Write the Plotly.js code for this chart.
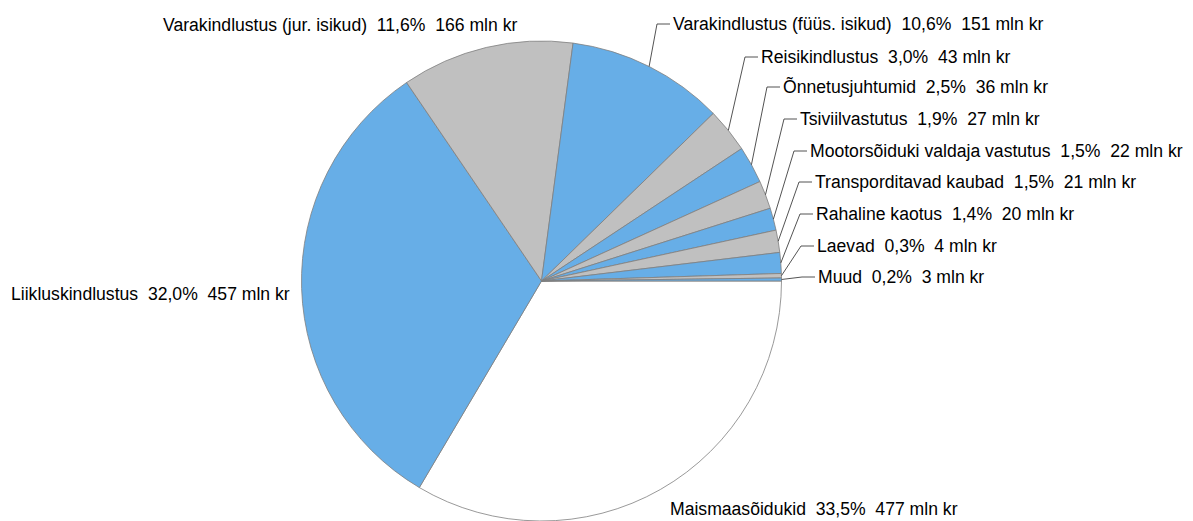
<!DOCTYPE html>
<html>
<head>
<meta charset="utf-8">
<script src="https://cdn.plot.ly/plotly-3.0.1.min.js"></script>
<style>html,body{margin:0;padding:0;background:#fff;}#chart{width:1193px;height:521px;}</style>
</head>
<body>
<div id="chart"></div>
<script>
// ---- data ----
var categories = [
  "Maismaasõidukid",
  "Liikluskindlustus",
  "Varakindlustus (jur. isikud)",
  "Varakindlustus (füüs. isikud)",
  "Reisikindlustus",
  "Õnnetusjuhtumid",
  "Tsiviilvastutus",
  "Mootorsõiduki valdaja vastutus",
  "Transporditavad kaubad",
  "Rahaline kaotus",
  "Laevad",
  "Muud"
];
var sharePct = [33.5, 32.0, 11.6, 10.6, 3.0, 2.5, 1.9, 1.5, 1.5, 1.4, 0.3, 0.2];
var amountMln = [477, 457, 166, 151, 43, 36, 27, 22, 21, 20, 4, 3];

// ---- layout / style ----
var W = 1193, H = 521;
var cx = 541.5, cy = 281, R = 240;
var BLUE = "#67AEE7", GRAY = "#C0C0C0", WHITE = "#FFFFFF";
var sliceColors = [WHITE, BLUE, GRAY, BLUE, GRAY, BLUE, GRAY, BLUE, GRAY, BLUE, GRAY, BLUE];
// label placement (pixel positions of label text start / vertical centre); leader: whether a leader line is drawn
var labelPos = [
  {x: 670, y: 509, leader: false},
  {x: 11,  y: 294, leader: false},
  {x: 163, y: 25,  leader: false},
  {x: 673, y: 24,  leader: true},
  {x: 761, y: 57,  leader: true},
  {x: 783, y: 87,  leader: true},
  {x: 800, y: 119, leader: true},
  {x: 810, y: 151, leader: true},
  {x: 815, y: 182, leader: true},
  {x: 816, y: 214, leader: true},
  {x: 817, y: 246, leader: true},
  {x: 818, y: 277, leader: true}
];

function fmtPct(v) { return v.toFixed(1).replace(".", ","); }
function px2x(p) { return p / W; }
function px2y(p) { return 1 - p / H; }

var total = sharePct.reduce(function (a, b) { return a + b; }, 0);
var annotations = [], shapes = [];
var cum = 0;
for (var i = 0; i < categories.length; i++) {
  var mid = (cum + sharePct[i] / 2) / total * 2 * Math.PI;
  cum += sharePct[i];
  var ax = cx + R * Math.cos(mid), ay = cy + R * Math.sin(mid);
  var lp = labelPos[i];
  annotations.push({
    xref: "paper", yref: "paper",
    x: px2x(lp.x - 2), y: px2y(lp.y),
    xanchor: "left", yanchor: "middle",
    text: categories[i] + "  " + fmtPct(sharePct[i]) + "%  " + amountMln[i] + " mln kr",
    showarrow: false,
    font: {family: "Liberation Sans, Arial, sans-serif", size: 17.6, color: "#000"}
  });
  if (lp.leader) {
    var ex = Math.max(lp.x - 16, ax + 4), ey = lp.y;
    var hx = lp.x - 3;
    shapes.push({
      type: "path", xref: "paper", yref: "paper",
      path: "M" + px2x(ax) + "," + px2y(ay) + " L" + px2x(ex) + "," + px2y(ey) + " L" + px2x(hx) + "," + px2y(ey),
      line: {color: "#404040", width: 0.9}
    });
  }
}

var trace = {
  type: "pie",
  labels: categories,
  values: sharePct,
  sort: false,
  direction: "clockwise",
  rotation: 90,
  textinfo: "none",
  hoverinfo: "label+percent",
  showlegend: false,
  marker: {colors: sliceColors, line: {color: "#7F7F7F", width: 0.8}},
  domain: {x: [(cx - R) / W, (cx + R) / W], y: [0, 2 * R / H]}
};

var layout = {
  width: W, height: H,
  margin: {l: 0, r: 0, t: 0, b: 0},
  paper_bgcolor: "#fff",
  showlegend: false,
  annotations: annotations,
  shapes: shapes
};

Plotly.newPlot("chart", [trace], layout, {displayModeBar: false, staticPlot: true});
</script>
</body>
</html>
